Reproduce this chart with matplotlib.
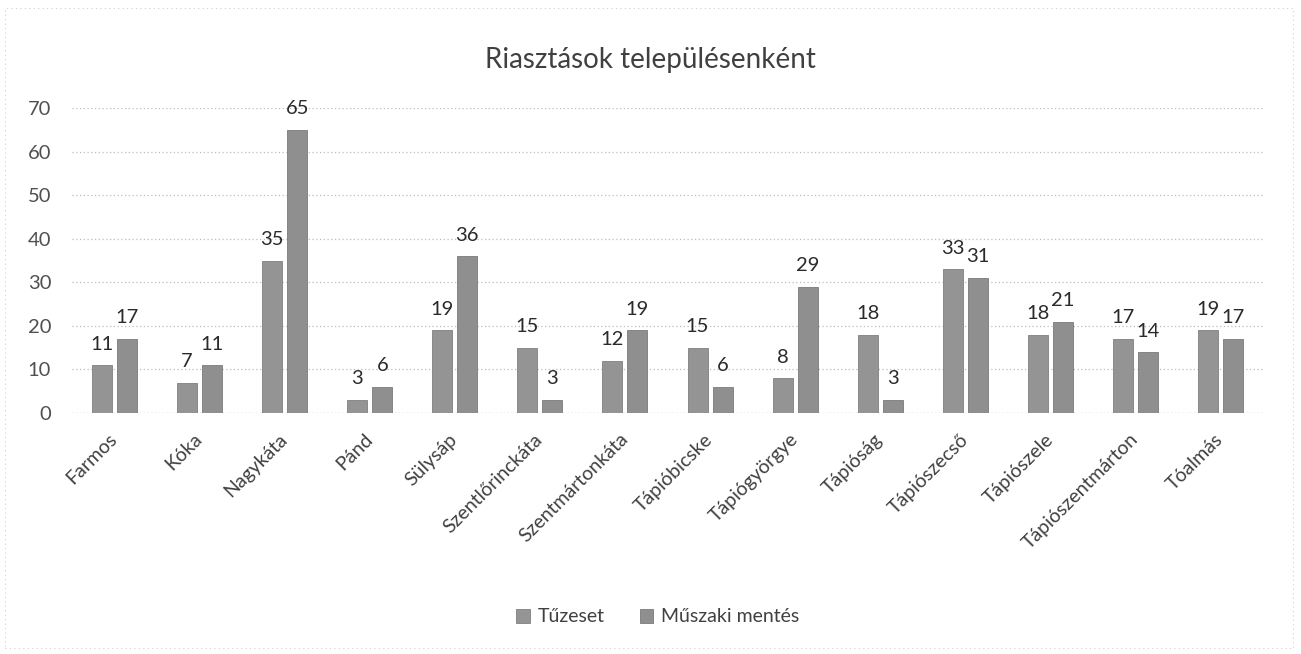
import matplotlib
matplotlib.use("Agg")
import matplotlib.pyplot as plt
from matplotlib.patches import Rectangle
import numpy as np

categories = ["Farmos", "Kóka", "Nagykáta", "Pánd", "Sülysáp", "Szentlőrinckáta",
              "Szentmártonkáta", "Tápióbicske", "Tápiógyörgye", "Tápióság",
              "Tápiószecső", "Tápiószele", "Tápiószentmárton", "Tóalmás"]
tuzeset = [11, 7, 35, 3, 19, 15, 12, 15, 8, 18, 33, 18, 17, 19]
muszaki = [17, 11, 65, 6, 36, 3, 19, 6, 29, 3, 31, 21, 14, 17]
series_names = ["Tűzeset", "Műszaki mentés"]
yticks = [0, 10, 20, 30, 40, 50, 60, 70]

plt.rcParams['font.family'] = ['Lato', 'DejaVu Sans']

W, H = 1301, 654
fig = plt.figure(figsize=(W / 100, H / 100), dpi=100)
ax = fig.add_axes([72 / W, 1 - 413 / H, (1263 - 72) / W, (413 - 108) / H])

x = np.arange(len(categories))
bw = 0.235
off = 0.147
c1 = '#949494'
c2 = '#8f8f8f'
b1 = ax.bar(x - off, tuzeset, bw, color=c1, edgecolor='#808080', linewidth=0.6, label=series_names[0], zorder=3)
b2 = ax.bar(x + off, muszaki, bw, color=c2, edgecolor='#7a7a7a', linewidth=0.6, label=series_names[1], zorder=3)

for bars, vals in ((b1, tuzeset), (b2, muszaki)):
    for rect, v in zip(bars, vals):
        ax.annotate(str(v), (rect.get_x() + rect.get_width() / 2, v),
                    xytext=(0, 9), textcoords='offset points',
                    ha='center', va='bottom', fontsize=14.5, color='#2a2a2a')

ax.set_xlim(-0.5, len(categories) - 0.5)
ax.set_ylim(0, 70)
ax.set_yticks(yticks)
ax.set_yticklabels([str(t) for t in yticks], fontsize=14.5, color='#505050')
ax.set_xticks(x)
ax.set_xticklabels(categories, rotation=45, ha='right', va='center',
                   rotation_mode='anchor', fontsize=14, color='#404040')
ax.tick_params(axis='both', length=0)
ax.tick_params(axis='y', pad=15)
ax.tick_params(axis='x', pad=17)

ax.grid(axis='y', linestyle=(0, (1, 2)), color='#bdbdbd', linewidth=0.9, zorder=0)
for s in ax.spines.values():
    s.set_visible(False)
ax.axhline(0, color='#b5b5b5', linestyle=(0, (1, 2)), linewidth=0.9, zorder=1)

fig.text(0.5, 1 - 60 / H, "Riasztások településenként", ha='center', va='center',
         fontsize=20, color='#404040')

leg = fig.legend(handles=[b1, b2], labels=series_names, loc='center',
                 bbox_to_anchor=(658 / W, 1 - 617 / H), ncol=2, frameon=False,
                 fontsize=14, handlelength=0.7, handleheight=0.7,
                 handletextpad=0.4, columnspacing=1.8)
for t in leg.get_texts():
    t.set_color('#404040')

fig.patches.append(Rectangle((5 / W, 6 / H), (1293 - 5) / W, (646 - 6) / H,
                             transform=fig.transFigure, fill=False,
                             edgecolor='#d0d0d0', linestyle=(0, (1, 3)), linewidth=0.8))

fig.savefig("out.png", dpi=100)
